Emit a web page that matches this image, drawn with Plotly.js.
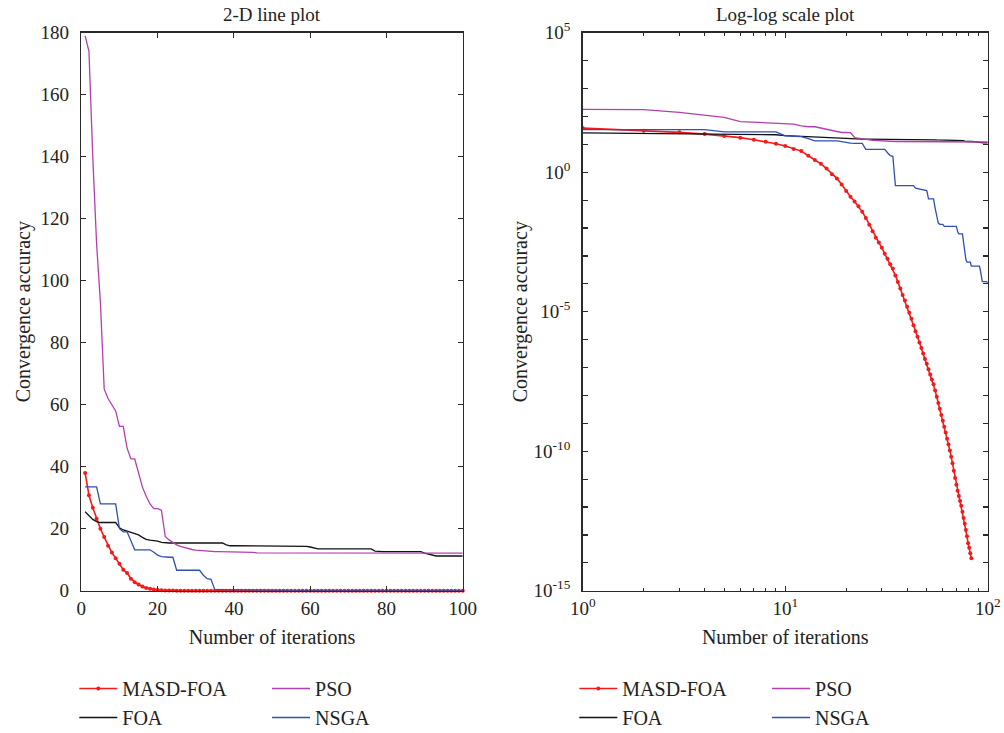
<!DOCTYPE html>
<html><head><meta charset="utf-8">
<script src="https://cdn.plot.ly/plotly-3.0.1.min.js"></script>
<style>html,body{margin:0;padding:0;background:#fff}#chart{width:1004px;height:733px}</style>
</head><body><div id="chart"></div>
<script>
const seriesNames = ['MASD-FOA', 'FOA', 'PSO', 'NSGA'];
const subplotTitles = ['2-D line plot', 'Log-log scale plot'];
const xTitle = 'Number of iterations';
const yTitle = 'Convergence accuracy';

const iterations = Array.from({length: 100}, (_, i) => i + 1);

const masdFoa = [
  38, 30.8, 26.8, 23.2, 20, 17.3, 14.5, 12.3, 10.5, 8.7,
  6.8, 5.7, 3.9, 2.75, 2.0, 1.35, 0.85, 0.6, 0.36, 0.21,
  0.132, 0.089, 0.060, 0.038, 0.023, 0.0132, 0.0076, 0.0045, 0.0030, 0.00195,
  1.2e-3, 7.9e-4, 5.0e-4, 3.5e-4, 2.0e-4, 1.17e-4, 6.8e-5, 4.0e-5, 2.5e-5, 1.5e-5,
  9.1e-6, 5.6e-6, 3.3e-6, 2.0e-6, 1.26e-6, 7.9e-7, 5.0e-7, 3.2e-7, 2.0e-7, 1.35e-7,
  8.7e-8, 5.6e-8, 3.7e-8, 2.5e-8, 1.5e-8, 8.9e-9, 5.4e-9, 3.3e-9, 2.0e-9, 1.23e-9,
  7.6e-10, 4.7e-10, 2.8e-10, 1.74e-10, 1.05e-10, 6.3e-11, 3.7e-11, 2.0e-11, 1.1e-11, 6.3e-12,
  3.8e-12, 2.5e-12, 1.66e-12, 1.1e-12, 6.8e-13, 4.0e-13, 2.5e-13, 1.5e-13, 8.9e-14, 5.0e-14,
  3.5e-14, 2.2e-14, 1.45e-14, 0, 0, 0, 0, 0, 0, 0,
  0, 0, 0, 0, 0, 0, 0, 0, 0, 0
];

const foa = [
  25.5, 24.2, 23, 22.3, 22, 22, 22, 22, 22, 20.3,
  19.6, 19.2, 18.8, 18.4, 18, 17.2, 16.6, 16.3, 16.2, 16,
  15.6, 15.4, 15.4, 15.4, 15.4, 15.4, 15.4, 15.4, 15.4, 15.4,
  15.4, 15.4, 15.4, 15.4, 15.4, 15.4, 15.4, 14.8, 14.5, 14.5,
  14.5, 14.5, 14.5, 14.5, 14.5, 14.5, 14.5, 14.5, 14.5, 14.5,
  14.5, 14.5, 14.5, 14.5, 14.5, 14.3, 14.3, 14.3, 14.3, 14.1,
  13.8, 13.5, 13.5, 13.5, 13.5, 13.5, 13.5, 13.5, 13.5, 13.5,
  13.5, 13.5, 13.5, 13.5, 13.5, 13.5, 12.8, 12.6, 12.6, 12.6,
  12.6, 12.6, 12.6, 12.6, 12.6, 12.6, 12.6, 12.6, 12.6, 12.1,
  11.8, 11.5, 11.2, 11.2, 11.2, 11.2, 11.2, 11.2, 11.2, 11.2
];

const pso = [
  179, 174, 140, 112, 93, 65, 62, 60, 58, 53,
  53, 46, 42.5, 42.5, 38, 33.5, 30.5, 28, 26.5, 26.5,
  26, 17.5, 16.4, 15.5, 14.8, 14.3, 13.9, 13.6, 13.3, 13.1,
  13, 12.8, 12.6, 12.6, 12.6, 12.6, 12.6, 12.6, 12.6, 12.6,
  12.4, 12.4, 12.4, 12.4, 12.4, 12.2, 12.2, 12.2, 12.2, 12.2,
  12.1, 12.1, 12.1, 12.1, 12.1, 12.1, 12.1, 12.1, 12.1, 12.1,
  12.1, 12.1, 12.1, 12.1, 12.1, 12.1, 12.1, 12.1, 12.1, 12.1,
  12.1, 12.1, 12.1, 12.1, 12.1, 12.1, 12.1, 12.1, 12.1, 12.1,
  12.1, 12.1, 12.1, 12.1, 12.1, 12.1, 12.1, 12.1, 12.1, 12.1,
  12.1, 12.1, 12.1, 12.1, 12.1, 12.1, 12.1, 12.1, 12.1, 12.1
];

const nsga = [
  33.5, 33.5, 33.5, 33.5, 28, 28, 28, 28, 28, 20,
  19, 19, 16, 13.2, 13.2, 13.2, 13.2, 13.2, 12.4, 11.5,
  11, 10.8, 10.8, 10.8, 6.6, 6.6, 6.6, 6.6, 6.6, 6.6,
  6.6, 5.0, 3.9, 3.7, 0.33, 0.33, 0.33, 0.33, 0.33, 0.33,
  0.33, 0.33, 0.33, 0.27, 0.26, 0.25, 0.25, 0.24, 0.23, 0.22,
  0.11, 0.11, 0.11, 0.11, 0.051, 0.03, 0.015, 0.0135, 0.0135, 0.0135,
  0.0115, 0.0115, 0.0115, 0.0115, 0.0115, 0.0115, 0.0115, 0.0115, 0.0115, 0.0115,
  0.0075, 0.0062, 0.0062, 0.0062, 0.0062, 0.003, 0.0011, 0.00074, 0.0006, 0.0006,
  0.0006, 0.0006, 0.00043, 0.00043, 0.00043, 0.00043, 0.00043, 0.00043, 0.00043, 0.00043,
  0.00043, 0.0003, 0.00017, 0.00012, 0.00012, 0.00012, 0.00012, 0.00012, 0.00012, 0.0001
];

const leftXTicks = [0, 20, 40, 60, 80, 100];
const leftYTicks = [0, 20, 40, 60, 80, 100, 120, 140, 160, 180];
const logXTickLabels = ['10<sup>0</sup>', '10<sup>1</sup>', '10<sup>2</sup>'];
const logYTickLabels = ['10<sup>-15</sup>', '10<sup>-10</sup>', '10<sup>-5</sup>', '10<sup>0</sup>', '10<sup>5</sup>'];

const colors = {'MASD-FOA': '#f51a1a', 'FOA': '#111111', 'PSO': '#b23fb0', 'NSGA': '#2f4fb3'};
const seriesData = {'MASD-FOA': masdFoa, 'FOA': foa, 'PSO': pso, 'NSGA': nsga};
const legendOf = [
  {'MASD-FOA': 'legend', 'FOA': 'legend', 'PSO': 'legend2', 'NSGA': 'legend2'},
  {'MASD-FOA': 'legend3', 'FOA': 'legend3', 'PSO': 'legend4', 'NSGA': 'legend4'}
];

const traces = [];
[0, 1].forEach(p => {
  seriesNames.forEach(name => {
    const isRed = name === 'MASD-FOA';
    // on the log axes, zero values cannot be drawn: leave them out (null)
    const yv = p === 0 ? seriesData[name] : seriesData[name].map(v => (v > 0 ? v : null));
    traces.push({
      type: 'scatter',
      x: iterations,
      y: yv,
      name: name,
      xaxis: p === 0 ? 'x' : 'x2',
      yaxis: p === 0 ? 'y' : 'y2',
      legend: legendOf[p][name],
      mode: isRed ? 'lines+markers' : 'lines',
      line: {color: colors[name], width: isRed ? 1.6 : 1.3},
      marker: {color: colors[name], size: 4},
      cliponaxis: p === 0 ? false : true,
      connectgaps: false
    });
  });
});

const FONT = 'Liberation Serif, Times New Roman, serif';
const axisBase = {
  showline: true, linecolor: '#2a2a2a', linewidth: 1.6, mirror: 'ticks',
  ticks: 'inside', ticklen: 5, tickwidth: 1.2, tickcolor: '#2a2a2a',
  showgrid: false, zeroline: false,
  tickfont: {family: FONT, size: 19, color: '#222'}
};
function logDecades(a, b) { const v = []; for (let e = a; e <= b; e++) v.push(Math.pow(10, e)); return v; }
const yDec = logDecades(-15, 5);
const yMajor = yDec.filter((v, i) => i % 5 === 0);
const yMinor = yDec.filter((v, i) => i % 5 !== 0);
const xMinor = [];
[1, 10].forEach(d => { for (let k = 2; k <= 9; k++) xMinor.push(k * d); });

const legendBase = {
  orientation: 'v', xanchor: 'left', yanchor: 'top', y: 0.0873,
  bgcolor: 'rgba(0,0,0,0)', borderwidth: 0, itemwidth: 38,
  font: {family: FONT, size: 20, color: '#222'}, tracegroupgap: 0
};

const layout = {
  width: 1004, height: 733,
  margin: {l: 0, r: 0, t: 0, b: 0, autoexpand: false},
  paper_bgcolor: '#fff', plot_bgcolor: '#fff',
  font: {family: FONT, color: '#222'},
  xaxis: Object.assign({}, axisBase, {
    domain: [0.081, 0.4609], range: [0, 100], tickvals: leftXTicks, anchor: 'y',
    title: {text: xTitle, font: {family: FONT, size: 20, color: '#222'}, standoff: 12}
  }),
  yaxis: Object.assign({}, axisBase, {
    domain: [0.1941, 0.9554], range: [0, 180], tickvals: leftYTicks, anchor: 'x',
    ticklabelstandoff: 7,
    title: {text: yTitle, font: {family: FONT, size: 20, color: '#222'}, standoff: 4}
  }),
  xaxis2: Object.assign({}, axisBase, {
    domain: [0.5804, 0.9838], type: 'log', range: [0, 2], anchor: 'y2',
    tickvals: [1, 10, 100], ticktext: logXTickLabels,
    minor: {tickvals: xMinor, ticks: 'inside', ticklen: 3, tickcolor: '#2a2a2a', tickwidth: 1},
    title: {text: xTitle, font: {family: FONT, size: 20, color: '#222'}, standoff: 12}
  }),
  yaxis2: Object.assign({}, axisBase, {
    domain: [0.1941, 0.9554], type: 'log', range: [-15, 5], anchor: 'x2',
    tickvals: yMajor, ticktext: logYTickLabels, ticklabelstandoff: 7,
    minor: {tickvals: yMinor, ticks: 'inside', ticklen: 5, tickcolor: '#2a2a2a', tickwidth: 1.2},
    title: {text: yTitle, font: {family: FONT, size: 20, color: '#222'}, standoff: 0}
  }),
  legend: Object.assign({}, legendBase, {x: 0.074}),
  legend2: Object.assign({}, legendBase, {x: 0.266}),
  legend3: Object.assign({}, legendBase, {x: 0.572}),
  legend4: Object.assign({}, legendBase, {x: 0.764}),
  annotations: [
    {text: subplotTitles[0], xref: 'paper', yref: 'paper', x: 0.2709, y: 1 - 15 / 733,
     xanchor: 'center', yanchor: 'middle', showarrow: false, font: {family: FONT, size: 19, color: '#222'}},
    {text: subplotTitles[1], xref: 'paper', yref: 'paper', x: 0.7821, y: 1 - 15 / 733,
     xanchor: 'center', yanchor: 'middle', showarrow: false, font: {family: FONT, size: 19, color: '#222'}}
  ]
};

Plotly.newPlot('chart', traces, layout, {displayModeBar: false, staticPlot: true});
</script>
</body></html>
